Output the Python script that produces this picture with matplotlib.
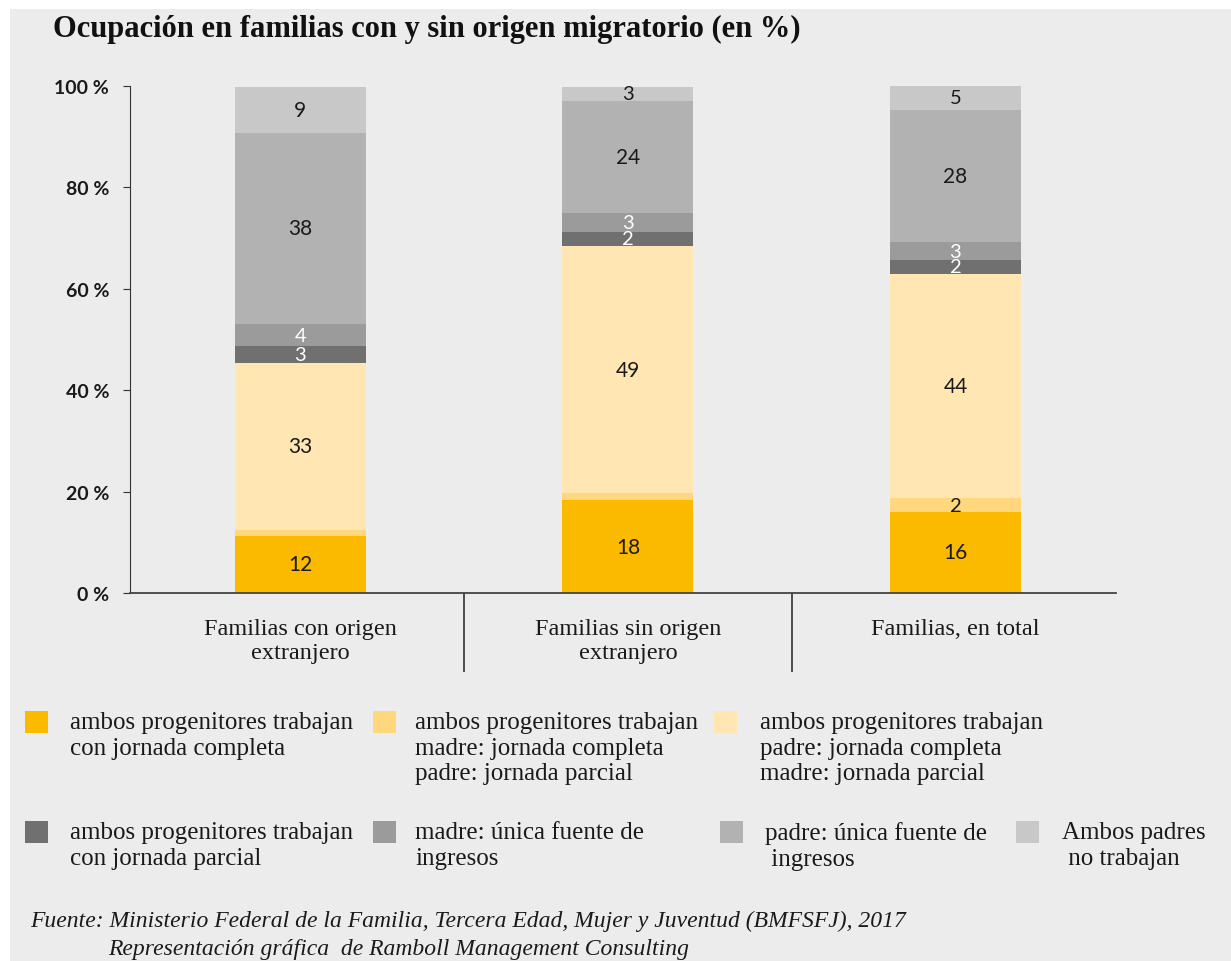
import matplotlib.pyplot as plt
from matplotlib.patches import Rectangle
import numpy as np

# categorías y valores (en %)
categorias = ["Familias con origen\nextranjero", "Familias sin origen\nextranjero", "Familias, en total"]

completa_ambos = [11.3, 18.3, 16.0]
madre_completa = [1.2, 1.4, 2.7]
padre_completa = [32.9, 48.7, 44.2]
parcial_ambos = [3.3, 2.9, 2.8]
solo_madre = [4.3, 3.6, 3.5]
solo_padre = [37.8, 22.1, 26.1]
no_trabajan = [9.1, 2.9, 4.7]

etiquetas = [
    ["12", "18", "16"],
    ["", "", "2"],
    ["33", "49", "44"],
    ["3", "2", "2"],
    ["4", "3", "3"],
    ["38", "24", "28"],
    ["9", "3", "5"],
]

series = [completa_ambos, madre_completa, padre_completa, parcial_ambos,
          solo_madre, solo_padre, no_trabajan]
colores = ["#FBB900", "#FFD77C", "#FFE6B2", "#707070", "#9B9B9B", "#B2B2B2", "#C8C8C8"]
color_texto = ["#1a1a1a", "#1a1a1a", "#1a1a1a", "white", "white", "#1a1a1a", "#1a1a1a"]

leyenda = [
    "ambos progenitores trabajan\ncon jornada completa",
    "ambos progenitores trabajan\nmadre: jornada completa\npadre: jornada parcial",
    "ambos progenitores trabajan\npadre: jornada completa\nmadre: jornada parcial",
    "ambos progenitores trabajan\ncon jornada parcial",
    "madre: única fuente de\ningresos",
    "padre: única fuente de\n ingresos",
    "Ambos padres\n no trabajan",
]

ticks_y = [0, 20, 40, 60, 80, 100]

W, H = 1231, 962
fig = plt.figure(figsize=(W / 100, H / 100), dpi=100)
fig.patch.set_facecolor("white")
fig.patches.append(Rectangle((10 / W, 0), 1 - 10 / W, 1 - 10 / H,
                             transform=fig.transFigure, facecolor="#ECECEC",
                             edgecolor="none", zorder=-10))

ax = fig.add_axes([130 / W, 1 - 594 / H, (1116 - 130) / W, (594 - 87) / H])
ax.set_facecolor("none")

x = np.arange(len(categorias))
fondo = np.zeros(len(categorias))
for vals, col, etq, ctx in zip(series, colores, etiquetas, color_texto):
    ax.bar(x, vals, 0.4, bottom=fondo, color=col, edgecolor="none")
    for i in range(len(x)):
        if etq[i]:
            ax.text(x[i], fondo[i] + vals[i] / 2, etq[i], ha="center", va="center",
                    fontsize=14.5 if vals[i] < 5 else 15, family="Lato", color=ctx)
    fondo = fondo + np.array(vals)

ax.set_xlim(-0.52, 2.49)
ax.set_ylim(0, 100)
for s in ["top", "right"]:
    ax.spines[s].set_visible(False)
ax.spines["left"].set_color("#333333")
ax.spines["bottom"].set_color("#444444")
ax.spines["bottom"].set_linewidth(1.3)

ax.set_yticks(ticks_y)
ax.set_yticklabels([f"{t} %" for t in ticks_y], family="Lato", fontweight="bold",
                   fontsize=14, color="#1a1a1a")
ax.tick_params(axis="y", length=5, color="#333333", pad=10)

ax.set_xticks(x)
ax.set_xticklabels(categorias, family="Liberation Serif", fontsize=17.5,
                   color="#1a1a1a", linespacing=1.2)
ax.tick_params(axis="x", which="major", length=0, pad=18)
ax.set_xticks([0.5, 1.5], minor=True)
ax.tick_params(axis="x", which="minor", length=57, width=1.2, color="#333333")

fig.text(53 / W, 1 - 29 / H, "Ocupación en familias con y sin origen migratorio (en %)",
         family="Liberation Serif", fontweight="bold", fontsize=22, va="center",
         color="#111111")

# leyenda manual
pos = [(25, 712, 70), (373, 712, 415), (714, 712, 760),
       (25, 822, 70), (373, 822, 415), (720, 822, 765), (1016, 822, 1062)]
for (px, py, tx), col, txt in zip(pos, colores, leyenda):
    fig.patches.append(Rectangle((px / W, 1 - (py + 22) / H), 23 / W, 22 / H,
                                 transform=fig.transFigure, facecolor=col,
                                 edgecolor="none"))
    fig.text(tx / W, 1 - py / H, txt, family="Liberation Serif", fontsize=18,
             va="top", ha="left", color="#1a1a1a", linespacing=1.22)

fig.text(30 / W, 1 - 921 / H,
         "Fuente: Ministerio Federal de la Familia, Tercera Edad, Mujer y Juventud (BMFSFJ), 2017",
         family="Liberation Serif", style="italic", fontsize=17, va="center", color="#1a1a1a")
fig.text(108 / W, 1 - 950 / H, "Representación gráfica  de Ramboll Management Consulting",
         family="Liberation Serif", style="italic", fontsize=17, va="center", color="#1a1a1a")

fig.savefig("out.png", dpi=100)
